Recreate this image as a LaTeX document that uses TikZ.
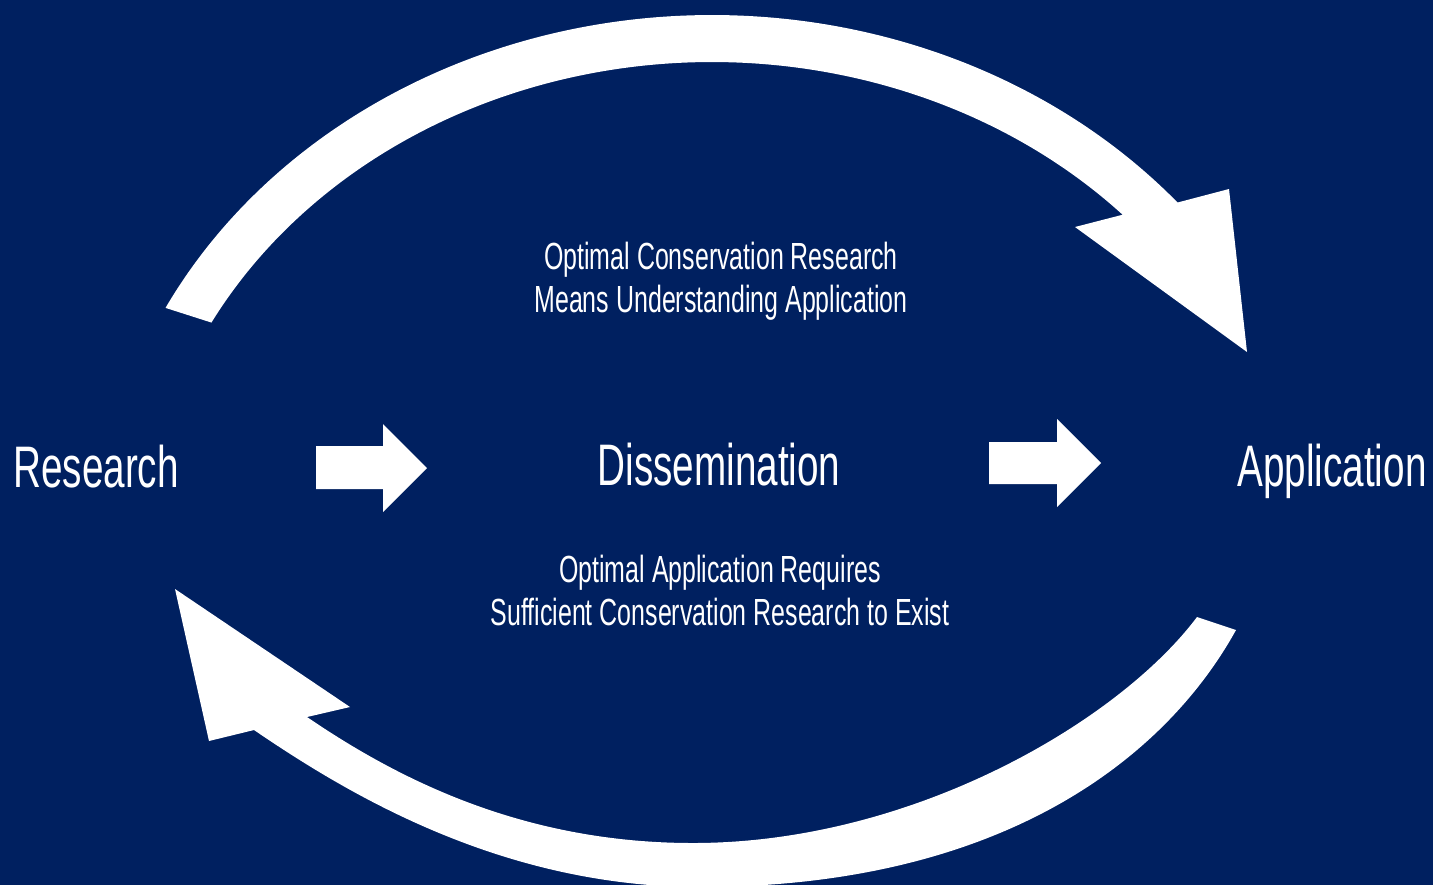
\documentclass[tikz,border=0pt]{standalone}
\usepackage{fontspec}
\newfontfamily\labelfont[FakeStretch=0.66]{Liberation Sans}
\definecolor{navy}{RGB}{0,32,96}

\begin{document}
\begin{tikzpicture}[x=0.5pt,y=-0.5pt,
  stage/.style={font=\labelfont\fontsize{29.3}{35}\selectfont, text=white, inner sep=0pt, anchor=base},
  note/.style={font=\labelfont\fontsize{18.9}{21.5}\selectfont, text=white, inner sep=0pt, align=center, anchor=base},
  band/.style={fill=white}]

% canvas
\useasboundingbox (0,0) rectangle (1433,885);
\clip (0,0) rectangle (1433,885);
\fill[navy] (0,0) rectangle (1433,885);

% curved arrow over the top: research -> application (elliptical band)
\coordinate (topc) at (712,556);
\fill[band]
  ([shift={(topc)}]-152.7:615 and 541)
    arc[start angle=-152.7, end angle=-40.8, x radius=615, y radius=541]
  -- (1229,189) -- (1247,352) -- (1075,227)
  -- ([shift={(topc)}]-43.7:568 and 494)
    arc[start angle=-43.7, end angle=-151.8, x radius=568, y radius=494]
  -- cycle;

% curved arrow underneath: application -> research
\fill[band]
  (1236,630) .. controls (1164,760) and (1000,887) .. (700,887)
             .. controls (500,887) and (345,792) .. (254,730)
  -- (209,741) -- (175,589) -- (350,707) -- (307,717)
  .. controls (398,779) and (523,843) .. (693,843)
  .. controls (913,843) and (1119,721) .. (1197,617)
  -- cycle;

% stage labels
\node[stage] (res) at (96,487) {Research};
\node[stage] (dis) at (719,485) {Dissemination};
\node[stage] (app) at (1332,486) {Application};

% block arrows between the stages
\fill[band] (316,446) -- (383,446) -- (383,424) -- (427,468) -- (383,512) -- (383,489) -- (316,489) -- cycle;
\fill[band] (989,442) -- (1057,442) -- (1057,419) -- (1101,463) -- (1057,507) -- (1057,484) -- (989,484) -- cycle;

% notes
\node[note] (top) at (721,312) {Optimal Conservation Research\\Means Understanding Application};
\node[note] (bottom) at (720,625) {Optimal Application Requires\\Sufficient Conservation Research to Exist};
\end{tikzpicture}
\end{document}
